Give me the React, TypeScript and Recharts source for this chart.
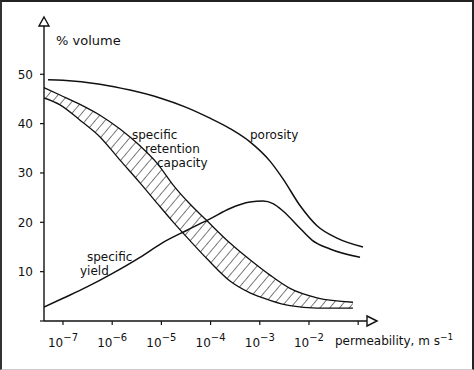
import React from 'react';
import {
    ComposedChart,
    Line,
    Area,
    XAxis,
    YAxis,
    ReferenceDot,
} from 'recharts';

// log10 of permeability (m/s) and % volume
const porosityK = [-7.305, -7.0, -6.248, -5.638, -5.028, -4.52, -4.012, -3.606, -3.199, -2.793, -2.528, -2.183, -1.837, -1.431, -0.902];
const porosityPct = [48.9, 48.8, 48.0, 46.8, 45.2, 43.4, 41.1, 39.0, 36.3, 32.4, 28.8, 23.4, 19.3, 16.8, 15.0];

const yieldK = [-7.386, -7.0, -6.512, -5.984, -5.435, -4.988, -4.48, -3.992, -3.606, -3.199, -2.935, -2.732, -2.528, -2.183, -1.939, -1.573, -0.963];
const yieldPct = [2.8, 4.6, 6.9, 9.7, 12.9, 15.8, 18.4, 20.8, 22.8, 24.1, 24.3, 23.8, 22.3, 18.8, 16.4, 14.6, 12.9];

const retentionK = [-7.386, -7.061, -6.654, -6.248, -5.841, -5.435, -5.089, -4.764, -4.419, -4.073, -3.606, -3.199, -2.793, -2.386, -1.837, -1.106];
const retentionHigh = [47.3, 45.8, 43.9, 41.7, 38.9, 35.5, 32.0, 27.6, 23.7, 20.3, 15.8, 12.4, 9.3, 6.6, 4.7, 3.8];
const retentionLow = [45.2, 43.8, 40.7, 37.3, 32.6, 28.0, 23.9, 20.1, 16.3, 12.6, 8.1, 5.7, 4.2, 3.1, 2.6, 2.6];

const kTicks = [-7.386, -7, -6, -5, -4, -3, -2, -1];
const pctTicks = [0, 10, 20, 30, 40, 50];

const K_MIN = -7.386;
const K_MAX = -0.658;
const PCT_MAX = 61;

const porosityData = porosityK.map((k, i) => ({ k, v: porosityPct[i] }));
const yieldData = yieldK.map((k, i) => ({ k, v: yieldPct[i] }));
const retentionData = retentionK.map((k, i) => ({ k, band: [retentionLow[i], retentionHigh[i]] }));

const FONT = '"DejaVu Sans", sans-serif';
const INK = '#111';

const notes = [
    { k: -7.142, pct: 55.9, text: '% volume', size: 13 },
    { k: -5.597, pct: 36.9, text: 'specific', size: 12 },
    { k: -5.333, pct: 34.0, text: 'retention', size: 12 },
    { k: -5.09, pct: 31.2, text: 'capacity', size: 12 },
    { k: -3.199, pct: 36.9, text: 'porosity', size: 12 },
    { k: -6.512, pct: 12.2, text: 'specific', size: 12 },
    { k: -6.654, pct: 9.3, text: 'yield', size: 12 },
];

const XTick = (props: any) => {
    const { x, y, payload } = props;
    const v = payload.value;
    if (v < -7.2 || v === -1) return null;
    return (
        <text x={x} y={y + 20} textAnchor="middle" fontFamily={FONT} fontSize={12} fill={INK}>
            10<tspan dy={-6} fontSize={10}>{String(v).replace('-', '\u2212')}</tspan>
        </text>
    );
};

const noteShape = (text: string, size: number) => (p: any) => (
    <text x={p.cx} y={p.cy} fontFamily={FONT} fontSize={size} fill={INK}>{text}</text>
);

const upArrow = (p: any) => (
    <path d={`M${p.cx},${p.cy - 3} L${p.cx + 5},${p.cy + 6} L${p.cx - 5},${p.cy + 6} Z`} fill="#fff" stroke={INK} strokeWidth={1.4} />
);

const rightArrow = (p: any) => (
    <path d={`M${p.cx + 2},${p.cy} L${p.cx - 8},${p.cy - 5} L${p.cx - 8},${p.cy + 5} Z`} fill="#fff" stroke={INK} strokeWidth={1.4} />
);

const axisLabel = (p: any) => (
    <text x={p.cx} y={p.cy} fontFamily={FONT} fontSize={12} fill={INK}>
        permeability, m s<tspan dy={-5} fontSize={9}>{'\u2212'}1</tspan>
    </text>
);

export default function App() {
    return (
        <div style={{
            position: 'absolute', left: 0, top: 0, width: 474, height: 370, background: '#fff',
            boxSizing: 'border-box', borderTop: '2px solid #222', borderLeft: '2px solid #333',
            borderRight: '2px solid #222', borderBottom: '1px solid #ccc',
        }}>
            <div style={{ position: 'absolute', left: -2, top: -2 }}>
                <ComposedChart width={474} height={370} margin={{ top: 20, right: 99, left: 0, bottom: 0 }}>
                    <defs>
                        <pattern id="hatch" patternUnits="userSpaceOnUse" width="7.5" height="7.5" patternTransform="rotate(40)">
                            <line x1="0" y1="0" x2="0" y2="7.5" stroke={INK} strokeWidth={1.1} />
                        </pattern>
                    </defs>
                    <XAxis
                        type="number"
                        dataKey="k"
                        domain={[K_MIN, K_MAX]}
                        allowDataOverflow
                        ticks={kTicks}
                        height={49}
                        tickSize={4}
                        tick={<XTick />}
                        axisLine={{ stroke: INK, strokeWidth: 1.4 }}
                        tickLine={{ stroke: INK, strokeWidth: 1.2 }}
                    />
                    <YAxis
                        type="number"
                        domain={[0, PCT_MAX]}
                        allowDataOverflow
                        ticks={pctTicks}
                        width={44}
                        tickSize={4}
                        tickMargin={7}
                        tickFormatter={(v: number) => (v === 0 ? '' : String(v))}
                        tick={{ fontFamily: FONT, fontSize: 12, fill: INK }}
                        axisLine={{ stroke: INK, strokeWidth: 1.4 }}
                        tickLine={{ stroke: INK, strokeWidth: 1.2 }}
                    />
                    <Area
                        data={retentionData}
                        dataKey="band"
                        type="monotone"
                        stroke={INK}
                        strokeWidth={1.3}
                        fill="url(#hatch)"
                        fillOpacity={1}
                        isAnimationActive={false}
                        dot={false}
                        activeDot={false}
                    />
                    <Line
                        data={porosityData}
                        dataKey="v"
                        type="monotone"
                        stroke={INK}
                        strokeWidth={1.5}
                        dot={false}
                        activeDot={false}
                        isAnimationActive={false}
                    />
                    <Line
                        data={yieldData}
                        dataKey="v"
                        type="monotone"
                        stroke={INK}
                        strokeWidth={1.5}
                        dot={false}
                        activeDot={false}
                        isAnimationActive={false}
                    />
                    {notes.map((n, i) => (
                        <ReferenceDot key={i} x={n.k} y={n.pct} r={0} ifOverflow="visible" shape={noteShape(n.text, n.size)} />
                    ))}
                    <ReferenceDot x={-1.471} y={-4.9} r={0} ifOverflow="visible" shape={axisLabel} />
                    <ReferenceDot x={K_MIN} y={PCT_MAX} r={0} ifOverflow="visible" shape={upArrow} />
                    <ReferenceDot x={K_MAX} y={0} r={0} ifOverflow="visible" shape={rightArrow} />
                </ComposedChart>
            </div>
        </div>
    );
}
